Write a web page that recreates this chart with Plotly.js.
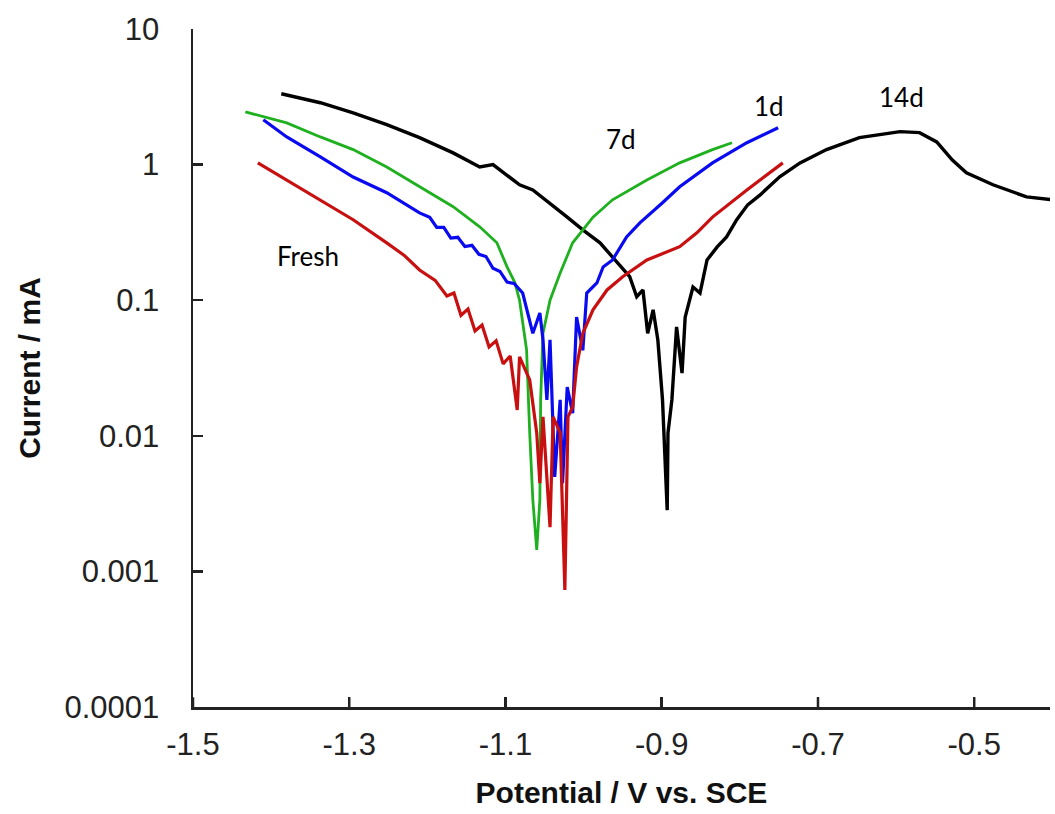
<!DOCTYPE html>
<html>
<head>
<meta charset="utf-8">
<script src="https://cdn.plot.ly/plotly-3.0.1.min.js"></script>
<style>html,body{margin:0;padding:0;background:#fff;}#chart{width:1055px;height:814px;}</style>
</head>
<body>
<div id="chart"></div>
<script>
// Potential (V vs. SCE) and current (mA)
const freshV = [-1.417,-1.380,-1.337,-1.295,-1.252,-1.230,-1.210,-1.190,-1.175,-1.166,-1.157,-1.148,-1.139,-1.130,-1.121,-1.112,-1.103,-1.094,-1.085,-1.082,-1.069,-1.060,-1.056,-1.052,-1.043,-1.039,-1.030,-1.024,-1.020,-1.014,-1.009,-1.001,-0.988,-0.970,-0.950,-0.919,-0.877,-0.855,-0.835,-0.791,-0.745];
const freshI = [1.03,0.77,0.55,0.392,0.265,0.215,0.167,0.140,0.1075,0.113,0.0774,0.0861,0.0593,0.0656,0.0452,0.0501,0.0339,0.0388,0.0155,0.0382,0.0258,0.0105,0.00448,0.0138,0.00212,0.0138,0.0105,0.00073,0.0138,0.0163,0.0322,0.057,0.085,0.119,0.149,0.198,0.248,0.314,0.41,0.65,1.03];

const d1V = [-1.410,-1.380,-1.337,-1.295,-1.252,-1.210,-1.197,-1.188,-1.179,-1.170,-1.161,-1.152,-1.143,-1.134,-1.125,-1.116,-1.107,-1.098,-1.089,-1.078,-1.065,-1.056,-1.052,-1.047,-1.043,-1.037,-1.030,-1.027,-1.021,-1.014,-1.009,-1.001,-0.996,-0.983,-0.975,-0.963,-0.945,-0.928,-0.899,-0.877,-0.835,-0.791,-0.751];
const d1I = [2.14,1.60,1.14,0.81,0.62,0.44,0.408,0.344,0.344,0.287,0.291,0.249,0.254,0.218,0.210,0.172,0.163,0.136,0.133,0.113,0.057,0.0806,0.051,0.0184,0.051,0.00497,0.0184,0.00448,0.0229,0.0147,0.075,0.0427,0.113,0.134,0.176,0.198,0.293,0.372,0.523,0.686,1.03,1.45,1.87];

const d7V = [-1.433,-1.380,-1.337,-1.295,-1.252,-1.210,-1.167,-1.133,-1.111,-1.098,-1.088,-1.082,-1.073,-1.069,-1.065,-1.060,-1.056,-1.055,-1.052,-1.043,-1.030,-1.014,-0.988,-0.963,-0.941,-0.919,-0.877,-0.835,-0.810];
const d7I = [2.45,2.03,1.60,1.29,0.96,0.686,0.489,0.348,0.265,0.176,0.135,0.100,0.043,0.0105,0.00337,0.00144,0.00337,0.0184,0.057,0.100,0.159,0.265,0.41,0.55,0.65,0.77,1.03,1.29,1.45];

const d14V = [-1.387,-1.337,-1.295,-1.252,-1.210,-1.167,-1.133,-1.116,-1.082,-1.065,-1.021,-1.001,-0.979,-0.957,-0.941,-0.932,-0.924,-0.918,-0.911,-0.905,-0.899,-0.893,-0.892,-0.887,-0.881,-0.874,-0.870,-0.860,-0.851,-0.842,-0.829,-0.817,-0.804,-0.790,-0.774,-0.749,-0.723,-0.689,-0.647,-0.595,-0.570,-0.548,-0.528,-0.510,-0.476,-0.433,-0.400];
const d14I = [3.33,2.86,2.41,1.97,1.58,1.22,0.96,1.00,0.71,0.65,0.41,0.33,0.265,0.192,0.149,0.106,0.119,0.057,0.085,0.051,0.0184,0.00283,0.0105,0.0184,0.0635,0.029,0.075,0.125,0.113,0.198,0.247,0.293,0.392,0.505,0.598,0.813,1.03,1.29,1.58,1.75,1.72,1.47,1.08,0.87,0.71,0.578,0.55];

const yTickVals = [0.0001,0.001,0.01,0.1,1,10];
const yTickText = ['0.0001','0.001','0.01','0.1','1','10'];
const xTickVals = [-1.5,-1.3,-1.1,-0.9,-0.7,-0.5];
const xTickText = ['-1.5','-1.3','-1.1','-0.9','-0.7','-0.5'];
const seriesNames = ['Fresh','1d','7d','14d'];

const traces = [
  {x: d14V, y: d14I, name: seriesNames[3], line: {color: '#000000', width: 3.4}},
  {x: d7V, y: d7I, name: seriesNames[2], line: {color: '#1fb01f', width: 2.8}},
  {x: d1V, y: d1I, name: seriesNames[1], line: {color: '#0a0af0', width: 3.2}},
  {x: freshV, y: freshI, name: seriesNames[0], line: {color: '#c81010', width: 3.2}}
].map(t => Object.assign({type: 'scatter', mode: 'lines'}, t));

// inward tick marks, placed at the tick values through the axes
const tickLine = {color: '#222', width: 2.5};
const tickShapes = xTickVals.map(v => ({type: 'line', xref: 'x', yref: 'paper', x0: v, x1: v, y0: 0, y1: 0.0145, line: tickLine, layer: 'above'}))
  .concat(yTickVals.map(v => ({type: 'line', xref: 'paper', yref: 'y', x0: 0, x1: 0.0115, y0: Math.log10(v), y1: Math.log10(v), line: tickLine, layer: 'above'})));

const annFont = {family: 'Lato, "Open Sans", sans-serif', size: 26, color: '#000'};
const layout = {
  width: 1055, height: 814,
  margin: {l: 193, r: 5, t: 29, b: 107},
  paper_bgcolor: '#fff', plot_bgcolor: '#fff',
  showlegend: false,
  font: {family: '"Liberation Sans", Arial, sans-serif'},
  xaxis: {
    range: [-1.5, -0.403], tickvals: xTickVals, ticktext: xTickText,
    ticks: 'inside', ticklen: 10, tickwidth: 2.5, tickcolor: '#222',
    showline: true, linecolor: '#222', linewidth: 2.5,
    showgrid: false, zeroline: false,
    tickfont: {size: 31, color: '#222'}, ticklabelstandoff: 8,
    title: {text: '<b>Potential / V vs. SCE</b>', font: {size: 30, color: '#111'}, standoff: 22}
  },
  yaxis: {
    type: 'log', range: [-4, 1], tickvals: yTickVals, ticktext: yTickText,
    ticks: 'inside', ticklen: 10, tickwidth: 2.5, tickcolor: '#222',
    showline: true, linecolor: '#222', linewidth: 2.5,
    showgrid: false, zeroline: false,
    tickfont: {size: 31, color: '#222'}, ticklabelstandoff: 25,
    title: {text: '<b>Current / mA</b>', font: {size: 30, color: '#111'}, standoff: 15}
  },
  shapes: tickShapes,
  annotations: [
    {text: seriesNames[0], x: 0.134, y: 0.665},
    {text: seriesNames[2], x: 0.499, y: 0.838},
    {text: seriesNames[1], x: 0.672, y: 0.886},
    {text: seriesNames[3], x: 0.827, y: 0.900}
  ].map(a => Object.assign({xref: 'paper', yref: 'paper', showarrow: false, font: annFont, xanchor: 'center', yanchor: 'middle'}, a))
};

Plotly.newPlot('chart', traces, layout, {staticPlot: true, displayModeBar: false});
</script>
</body>
</html>
